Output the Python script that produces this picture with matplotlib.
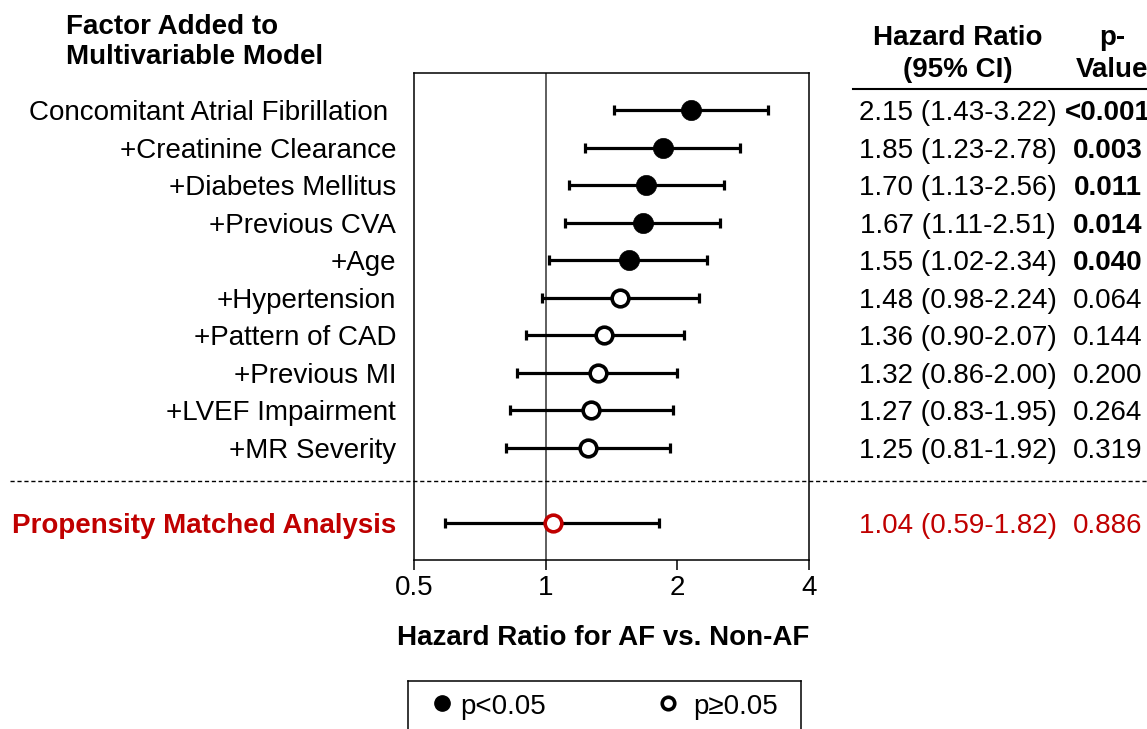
import numpy as np
import matplotlib
matplotlib.use('Agg')
import matplotlib.pyplot as plt
from matplotlib.transforms import blended_transform_factory

plt.rcParams['font.family'] = ['Liberation Sans', 'DejaVu Sans']

# data
factors = ['Concomitant Atrial Fibrillation ', '+Creatinine Clearance', '+Diabetes Mellitus',
           '+Previous CVA', '+Age', '+Hypertension', '+Pattern of CAD', '+Previous MI',
           '+LVEF Impairment', '+MR Severity']
hr = [2.15, 1.85, 1.70, 1.67, 1.55, 1.48, 1.36, 1.32, 1.27, 1.25]
ci_lo = [1.43, 1.23, 1.13, 1.11, 1.02, 0.98, 0.90, 0.86, 0.83, 0.81]
ci_hi = [3.22, 2.78, 2.56, 2.51, 2.34, 2.24, 2.07, 2.00, 1.95, 1.92]
p_text = ['<0.001', '0.003', '0.011', '0.014', '0.040', '0.064', '0.144', '0.200', '0.264', '0.319']
significant = [True, True, True, True, True, False, False, False, False, False]

pm_label = 'Propensity Matched Analysis'
pm_hr = 1.04
pm_lo = 0.59
pm_hi = 1.82
pm_p = '0.886'

xticks = [0.5, 1, 2, 4]
xtick_labels = ['0.5', '1', '2', '4']

RED = '#c00000'
W, H = 1147, 729
FS = 20
TXT_DY = 0.08  # small nudge so text sits on the row centre

fig = plt.figure(figsize=(W / 100, H / 100), dpi=100)
ax = fig.add_axes([414 / W, 1 - 560 / H, (809 - 414) / W, (560 - 73) / H])

rows = np.arange(len(factors))
pm_row = len(factors) + 1

for i in rows:
    ax.errorbar(hr[i], rows[i], xerr=[[hr[i] - ci_lo[i]], [ci_hi[i] - hr[i]]],
                fmt='none', ecolor='black', elinewidth=2.3, capsize=3.8, capthick=2.3, zorder=2)
    if significant[i]:
        ax.plot(hr[i], rows[i], 'o', ms=14.5, mfc='black', mec='black', mew=0.5, zorder=3)
    else:
        ax.plot(hr[i], rows[i], 'o', ms=12, mfc='white', mec='black', mew=2.6, zorder=3)

ax.errorbar(pm_hr, pm_row, xerr=[[pm_hr - pm_lo], [pm_hi - pm_hr]],
            fmt='none', ecolor='black', elinewidth=2.3, capsize=3.8, capthick=2.3, zorder=2)
ax.plot(pm_hr, pm_row, 'o', ms=12, mfc='white', mec=RED, mew=2.6, zorder=3)

ax.axvline(1, color='#333333', lw=1.1, zorder=1)

ax.set_xscale('log', base=2)
ax.set_xlim(0.5, 4)
ax.set_ylim(12, -1)
ax.set_xticks(xticks)
ax.set_xticklabels(xtick_labels, fontsize=FS)
ax.minorticks_off()
ax.set_yticks([])
ax.tick_params(axis='x', direction='out', length=7, width=1.1, pad=4)
for s in ax.spines.values():
    s.set_linewidth(1.1)

# texts placed in figure pixels (x) and data rows (y)
tr = blended_transform_factory(fig.transFigure, ax.transData)

def fx(px):
    return px / W

for i in rows:
    weight = 'bold' if significant[i] else 'normal'
    y = rows[i] + TXT_DY
    ax.text(fx(396), y, factors[i], transform=tr, ha='right', va='center', fontsize=FS)
    ax.text(fx(958), y, f'{hr[i]:.2f} ({ci_lo[i]:.2f}-{ci_hi[i]:.2f})', transform=tr,
            ha='center', va='center', fontsize=FS)
    ax.text(fx(1108), y, p_text[i], transform=tr, ha='center', va='center',
            fontsize=FS, fontweight=weight)

y = pm_row + TXT_DY
ax.text(fx(396), y, pm_label, transform=tr, ha='right', va='center', fontsize=FS,
        fontweight='bold', color=RED)
ax.text(fx(958), y, f'{pm_hr:.2f} ({pm_lo:.2f}-{pm_hi:.2f})', transform=tr,
        ha='center', va='center', fontsize=FS, color=RED)
ax.text(fx(1108), y, pm_p, transform=tr, ha='center', va='center', fontsize=FS, color=RED)

# dashed separator across the whole figure
ax.plot([fx(10), fx(1147)], [9.9, 9.9], transform=tr, color='black', lw=1.0,
        ls=(0, (3, 2)), clip_on=False)

# headers
fig.text(fx(66), 1 - 42 / H, 'Factor Added to\nMultivariable Model', ha='left', va='center',
         fontsize=FS, fontweight='bold', linespacing=1.25)
fig.text(fx(958), 1 - 54 / H, 'Hazard Ratio\n(95% CI)', ha='center', va='center',
         fontsize=FS, fontweight='bold', linespacing=1.27)
fig.text(fx(1112), 1 - 54 / H, 'p-\nValue', ha='center', va='center',
         fontsize=FS, fontweight='bold', linespacing=1.27)
fig.add_artist(plt.Line2D([fx(853), fx(1147)], [1 - 89 / H, 1 - 89 / H], color='black', lw=1.5))

fig.text(fx(603), 1 - 638 / H, 'Hazard Ratio for AF vs. Non-AF', ha='center', va='center',
         fontsize=FS, fontweight='bold')

# legend box at the bottom (cut by the figure edge)
lg = fig.add_axes([408 / W, 1 - 745 / H, (801 - 408) / W, 64 / H])
lg.set_xlim(0, 1)
lg.set_ylim(0, 1)
lg.set_xticks([])
lg.set_yticks([])
for s in lg.spines.values():
    s.set_linewidth(1.1)
lg.plot(0.0865, 0.656, 'o', ms=11, mfc='black', mec='black')
lg.text(0.132, 0.6, 'p<0.05', ha='left', va='center', fontsize=FS)
lg.plot(0.662, 0.656, 'o', ms=9, mfc='white', mec='black', mew=2.6)
lg.text(0.725, 0.6, 'p\u22650.05', ha='left', va='center', fontsize=FS)

fig.savefig('out.png', dpi=100)
